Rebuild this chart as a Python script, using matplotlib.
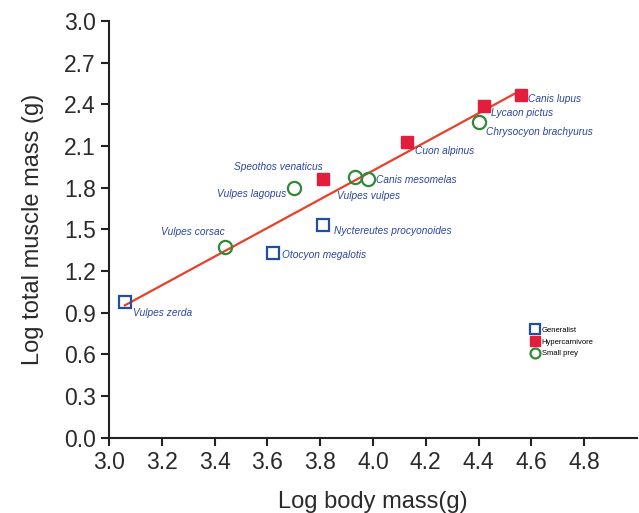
import matplotlib
matplotlib.use("Agg")
import matplotlib.pyplot as plt
import numpy as np

plt.rcParams['font.family'] = ['Liberation Sans', 'DejaVu Sans']

# species data
species = ["Vulpes zerda", "Vulpes corsac", "Otocyon megalotis", "Nyctereutes procyonoides",
           "Vulpes lagopus", "Speothos venaticus", "Vulpes vulpes", "Canis mesomelas",
           "Cuon alpinus", "Chrysocyon brachyurus", "Lycaon pictus", "Canis lupus"]
log_body = [3.06, 3.44, 3.62, 3.81, 3.70, 3.81, 3.93, 3.98, 4.13, 4.40, 4.42, 4.56]
log_muscle = [0.98, 1.37, 1.33, 1.53, 1.80, 1.86, 1.88, 1.86, 2.13, 2.27, 2.39, 2.47]
diet = ["Generalist", "Small prey", "Generalist", "Generalist",
        "Small prey", "Hypercarnivore", "Small prey", "Small prey",
        "Hypercarnivore", "Small prey", "Hypercarnivore", "Hypercarnivore"]

# regression line
slope = 1.032
intercept = -2.205

# label offsets (pixels) and alignment
label_pos = {
    "Vulpes zerda": (8, -11, "left"),
    "Vulpes corsac": (0, 15, "right"),
    "Otocyon megalotis": (9, -2, "left"),
    "Nyctereutes procyonoides": (11, -6, "left"),
    "Vulpes lagopus": (-8, -6, "right"),
    "Speothos venaticus": (0, 12, "right"),
    "Vulpes vulpes": (-18, -19, "left"),
    "Canis mesomelas": (8, -1, "left"),
    "Cuon alpinus": (8, -9, "left"),
    "Chrysocyon brachyurus": (7, -10, "left"),
    "Lycaon pictus": (7, -7, "left"),
    "Canis lupus": (7, -4, "left"),
}

styles = {
    "Generalist": dict(marker="s", ms=9, mfc="none", mec="#1f4f9e", mew=1.6),
    "Hypercarnivore": dict(marker="s", ms=9, mfc="#e31d3c", mec="#e31d3c", mew=1.0),
    "Small prey": dict(marker="o", ms=9.5, mfc="none", mec="#2e8b34", mew=1.6),
}

fig = plt.figure(figsize=(6.39, 5.13), dpi=100)
ax = fig.add_axes([109 / 639, 1 - 437.7 / 513, 528 / 639, 416.7 / 513])

xs = np.array([min(log_body), max(log_body)])
ax.plot(xs, slope * xs + intercept, color="#e8402a", lw=1.6, zorder=2)

body = np.array(log_body)
muscle = np.array(log_muscle)
grp = np.array(diet)
for g in ["Generalist", "Hypercarnivore", "Small prey"]:
    m = grp == g
    ax.plot(body[m], muscle[m], ls="none", label=g, zorder=3, **styles[g])

for name, x, y in zip(species, log_body, log_muscle):
    dx, dy, ha = label_pos[name]
    ax.annotate(name, (x, y), xytext=(dx, dy), textcoords="offset pixels",
                ha=ha, va="center", fontsize=7.3, style="italic", color="#2c459c")

ax.set_xlim(3.0, 5.0)
ax.set_ylim(0.0, 3.0)
ax.set_xticks(np.arange(3.0, 4.81, 0.2))
ax.set_yticks(np.arange(0.0, 3.01, 0.3))
ax.xaxis.set_major_formatter(matplotlib.ticker.FormatStrFormatter("%.1f"))
ax.yaxis.set_major_formatter(matplotlib.ticker.FormatStrFormatter("%.1f"))
ax.tick_params(labelsize=16.5, width=1.5, length=6, color="#222222", labelcolor="#2a2a2a")
for s in ["top", "right"]:
    ax.spines[s].set_visible(False)
for s in ["left", "bottom"]:
    ax.spines[s].set_linewidth(1.5)
    ax.spines[s].set_color("#222222")
ax.set_xlabel("Log body mass(g)", fontsize=17, color="#2a2a2a", labelpad=12)
ax.set_ylabel("Log total muscle mass (g)", fontsize=17, color="#2a2a2a", labelpad=14)

ax.legend(loc="upper left", bbox_to_anchor=(527 / 639, 1 - 323 / 513),
          bbox_transform=fig.transFigure, frameon=False, fontsize=5.5,
          markerscale=0.75, handlelength=1.0, handletextpad=0.4, labelspacing=0.55,
          borderpad=0)

fig.savefig("out.png", dpi=100)
